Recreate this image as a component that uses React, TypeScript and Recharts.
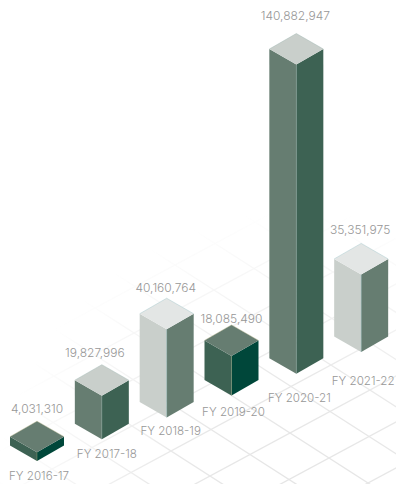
import React from "react";
import { Bar, BarChart, Customized, LabelList, XAxis, YAxis } from "recharts";

// Collections per financial year
const years = ["FY 2016-17", "FY 2017-18", "FY 2018-19", "FY 2019-20", "FY 2020-21", "FY 2021-22"];
const collections = [4031310, 19827996, 40160764, 18085490, 140882947, 35351975];

const chartData = years.map((year, i) => ({ year, amount: collections[i] }));

const WIDTH = 396;
const HEIGHT = 484;
const BASELINE = 461; // front corner of the first block
const STEP_UP = 21.8; // each block sits further back on the floor
const HALF_DEPTH = 15.5;
const FONT = "Inter, sans-serif";
const TEXT_COLOR = "#979797";

// Shades repeat every three blocks
const shades = [
  { top: "#667d71", left: "#3d6253", right: "#00473a", edge: "#a8a97c" },
  { top: "#c9cfcb", left: "#667d71", right: "#3d6253", edge: "#98b0ab" },
  { top: "#e3e6e5", left: "#c9cfcb", right: "#667d71", edge: "#98c0c6" },
];

// Hand placement of the labels around each block
const valueNudge = [
  [0, 13],
  [-7, 12],
  [-1, 11],
  [0, 6],
  [-1, 18],
  [-1, 14],
];
const yearNudge = [
  [2, 15],
  [5, 15],
  [4, 14],
  [2, 16],
  [3, 24],
  [2, 29],
];

const pts = (list: number[][]) => list.map((p) => p.join(",")).join(" ");

const Block = (props: any) => {
  const { x, y, width, height, index } = props;
  const s = shades[index % 3];
  const cx = x + width / 2;
  const hw = width / 2;
  const bottom = y + height - index * STEP_UP;
  const top = bottom - height;
  const edge = { stroke: s.edge, strokeWidth: 0.4 };
  return (
    <g>
      <polygon
        points={pts([[cx - hw, top - HALF_DEPTH], [cx, top], [cx, bottom], [cx - hw, bottom - HALF_DEPTH]])}
        fill={s.left}
      />
      <polygon
        points={pts([[cx + hw, top - HALF_DEPTH], [cx, top], [cx, bottom], [cx + hw, bottom - HALF_DEPTH]])}
        fill={s.right}
      />
      <polygon
        points={pts([[cx, top], [cx + hw, top - HALF_DEPTH], [cx, top - 2 * HALF_DEPTH], [cx - hw, top - HALF_DEPTH]])}
        fill={s.top}
      />
      <line x1={cx} y1={top} x2={cx} y2={bottom} {...edge} />
      <line x1={cx - hw} y1={top - HALF_DEPTH} x2={cx} y2={top - 2 * HALF_DEPTH} {...edge} />
      <line x1={cx + hw} y1={top - HALF_DEPTH} x2={cx} y2={top - 2 * HALF_DEPTH} {...edge} />
    </g>
  );
};

const labelStyle = {
  textAnchor: "middle" as const,
  dominantBaseline: "central" as const,
  fontFamily: FONT,
  fontWeight: 300,
  fill: TEXT_COLOR,
};

const ValueLabel = (props: any) => {
  const { x, y, width, index, value } = props;
  const [dx, rise] = valueNudge[index];
  const top = y - index * STEP_UP - 2 * HALF_DEPTH;
  return (
    <text x={x + width / 2 + dx} y={top - rise} fontSize={12} {...labelStyle}>
      {Number(value).toLocaleString("en-US")}
    </text>
  );
};

const YearLabel = (props: any) => {
  const { x, width, index, value } = props;
  const [dx, drop] = yearNudge[index];
  return (
    <text x={x + width / 2 + dx} y={BASELINE - index * STEP_UP + drop} fontSize={11.6} {...labelStyle}>
      {value}
    </text>
  );
};

// Isometric floor, fading out towards the top
const Floor = () => {
  const ox = 290;
  const oy = 433;
  const a = [40, -21.5];
  const b = [39, 25];
  const lines = [];
  for (let n = -8; n <= 8; n++) {
    const sx = ox + n * b[0];
    const sy = oy + n * b[1];
    lines.push([sx - 8 * a[0], sy - 8 * a[1], sx + 8 * a[0], sy + 8 * a[1]]);
    const tx = ox + n * a[0];
    const ty = oy + n * a[1];
    lines.push([tx - 8 * b[0], ty - 8 * b[1], tx + 8 * b[0], ty + 8 * b[1]]);
  }
  return (
    <g>
      <defs>
        <radialGradient id="floorFade" gradientUnits="userSpaceOnUse" cx={300} cy={520} r={310}>
          <stop offset="0%" stopColor="#e4e4e4" />
          <stop offset="45%" stopColor="#e8e8e8" />
          <stop offset="100%" stopColor="#ffffff" />
        </radialGradient>
      </defs>
      {lines.map((l, i) => (
        <line
          key={i}
          x1={l[0]}
          y1={l[1]}
          x2={l[2]}
          y2={l[3]}
          stroke="url(#floorFade)"
          strokeWidth={1.3}
        />
      ))}
    </g>
  );
};

export default function App() {
  return (
    <div style={{ position: "absolute", left: 0, top: 0, width: WIDTH, height: HEIGHT, background: "#fff" }}>
      <BarChart
        width={WIDTH}
        height={HEIGHT}
        data={chartData}
        margin={{ top: 0, right: 2, bottom: HEIGHT - BASELINE, left: 5 }}
      >
        <Customized component={Floor} />
        <XAxis dataKey="year" hide />
        <YAxis hide domain={[0, 210000000]} />
        <Bar dataKey="amount" barSize={54} shape={Block} isAnimationActive={false}>
          <LabelList dataKey="amount" content={ValueLabel} />
          <LabelList dataKey="year" content={YearLabel} />
        </Bar>
      </BarChart>
    </div>
  );
}
